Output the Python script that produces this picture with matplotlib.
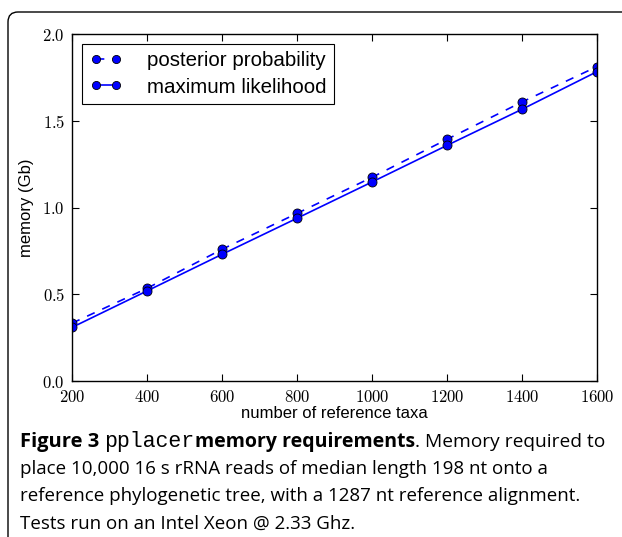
import matplotlib
matplotlib.use("Agg")
import matplotlib.pyplot as plt
from matplotlib.patches import PathPatch
from matplotlib.path import Path
from matplotlib.transforms import IdentityTransform
from matplotlib.ticker import FuncFormatter

# ── data ───────────────────────────────────────────────────────────────────
taxa = [200, 400, 600, 800, 1000, 1200, 1400, 1600]
mem_posterior = [0.333, 0.534, 0.759, 0.966, 1.174, 1.393, 1.608, 1.812]
mem_ml = [0.309, 0.519, 0.730, 0.938, 1.147, 1.358, 1.566, 1.783]

x_ticks = [200, 400, 600, 800, 1000, 1200, 1400, 1600]
y_ticks = [0.0, 0.5, 1.0, 1.5, 2.0]

caption_lines = [
    "place 10,000 16 s rRNA reads of median length 198 nt onto a",
    "reference phylogenetic tree, with a 1287 nt reference alignment.",
    "Tests run on an Intel Xeon @ 2.33 Ghz.",
]

plt.rcParams["mathtext.fontset"] = "cm"

W, H = 622, 537
fig = plt.figure(figsize=(W / 100, H / 100), dpi=100)
fig.patch.set_facecolor("white")

# panel frame: left edge + top edge with a rounded top-left corner (pixels)
r = 10
top = H - 12
verts = [(8, -5), (8, top - r), (8, top), (8 + r, top), (W + 5, top)]
codes = [Path.MOVETO, Path.LINETO, Path.CURVE3, Path.CURVE3, Path.LINETO]
fig.patches.append(PathPatch(Path(verts, codes), transform=IdentityTransform(),
                             facecolor="none", edgecolor="black", lw=1.0))

ax = fig.add_axes([72 / W, 1 - 381 / H, (597 - 72) / W, (381 - 34) / H])

ax.plot(taxa, mem_posterior, color="blue", ls="--", dashes=(5, 5), lw=1.2,
        marker="o", ms=6.5, mfc="blue", mec="black", mew=0.6,
        label="posterior probability")
ax.plot(taxa, mem_ml, color="blue", ls="-", lw=1.2,
        marker="o", ms=6.5, mfc="blue", mec="black", mew=0.6,
        label="maximum likelihood")

ax.set_xlim(200, 1600)
ax.set_ylim(0, 2.0)
ax.set_xticks(x_ticks)
ax.set_yticks(y_ticks)
ax.xaxis.set_major_formatter(FuncFormatter(lambda v, p: r"$%d$" % v))
ax.yaxis.set_major_formatter(FuncFormatter(lambda v, p: r"$%.1f$" % v))
ax.tick_params(direction="in", top=True, right=True, length=5, width=0.8,
               labelsize=12, pad=5)
for s in ax.spines.values():
    s.set_linewidth(1.0)

ax.set_xlabel("number of reference taxa", family="Liberation Sans",
              fontsize=12, labelpad=0)
ax.set_ylabel("memory (Gb)", family="Liberation Sans", fontsize=12,
              labelpad=6)

leg = ax.legend(loc="upper left", numpoints=2,
                prop={"family": "Liberation Sans", "size": 14.8},
                fancybox=False, framealpha=1, edgecolor="black",
                handlelength=1.6, handletextpad=1.2, borderaxespad=0.5,
                borderpad=0.35, labelspacing=0.35, markerscale=0.9)
leg.get_frame().set_linewidth(0.8)

# ── caption with mixed fonts on the first line ────────────────────────────
fig.canvas.draw()
renderer = fig.canvas.get_renderer()
x0 = 20
y1 = H - 442
runs = [
    ("Figure 3 ", dict(family="Open Sans", weight="bold", fontsize=14.5)),
    ("pplacer", dict(family="Liberation Mono", fontsize=15.5)),
    ("memory requirements", dict(family="Open Sans", weight="bold", fontsize=14)),
    (". Memory required to", dict(family="Open Sans", fontsize=13.8)),
]
x = x0
for txt, kw in runs:
    t = fig.text(x, y1, txt, transform=IdentityTransform(),
                 va="center", ha="left", **kw)
    bb = t.get_window_extent(renderer=renderer)
    x = bb.x1

for i, line in enumerate(caption_lines):
    fig.text(x0, H - (469 + 27.3 * i), line, transform=IdentityTransform(),
             fontsize=13.5, va="center", ha="left", family="Open Sans")

fig.savefig("out.png", dpi=100)
